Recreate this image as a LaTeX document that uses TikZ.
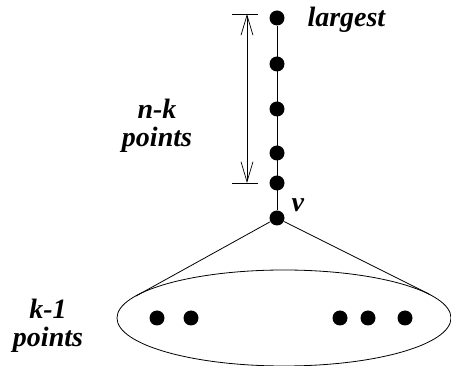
\documentclass[tikz,border=0pt]{standalone}
\usepackage{fontspec}
\setmainfont{Liberation Serif}
\usetikzlibrary{shapes.geometric,arrows.meta}

\begin{document}
\begin{tikzpicture}[x=1pt,y=-1pt,line width=1pt,
    pt/.style={circle,fill=black,inner sep=0pt,minimum size=15pt},
    lbl/.style={inner sep=0pt,align=center,font=\fontsize{28}{28}\selectfont\bfseries\itshape},
    barb/.style={{Straight Barb[length=20pt,width=12pt,line width=0.7pt]}-{Straight Barb[length=20pt,width=12pt,line width=0.7pt]}}]
    \useasboundingbox (0,0) rectangle (451,366);
    % chain of points up to the largest
    \foreach \y/\n in {18/c1,64/c2,109/c3,153/c4,183/c5}
        \node[pt] (\n) at (277,\y) {};
    \node[pt] (v) at (277,218) {};
    \draw (c1) -- (v);
    \node[lbl,anchor=base west] (lg) at (307,27) {largest};
    \node[lbl,anchor=base west] (vl) at (291,212) {v};
    % n-k arrow with bars
    \coordinate (ntop) at (247,14);
    \coordinate (nbot) at (247,183);
    \draw[barb,line width=0.7pt] (ntop) -- (nbot);
    \draw[line width=0.7pt] ([xshift=-15pt]ntop) -- ([xshift=11pt]ntop);
    \draw[line width=0.7pt] ([xshift=-15pt]nbot) -- ([xshift=11pt]nbot);
    \node[lbl] (nk) at (157,126) {n-k\\points};
    % the k-1 points below v
    \node[draw,ellipse,inner sep=0pt,line width=0.8pt,minimum width=334pt,minimum height=96pt] (pool) at (284,318) {};
    \coordinate (tl) at (136,296);
    \coordinate (tr) at (429,294);
    \draw[line width=0.8pt] (tl) -- (v) -- (tr);
    \foreach \x [count=\i] in {157,191,340,368,405}
        \node[pt] (b\i) at (\x,318) {};
    \node[lbl] (km) at (48,326) {k-1\\points};
\end{tikzpicture}
\end{document}
